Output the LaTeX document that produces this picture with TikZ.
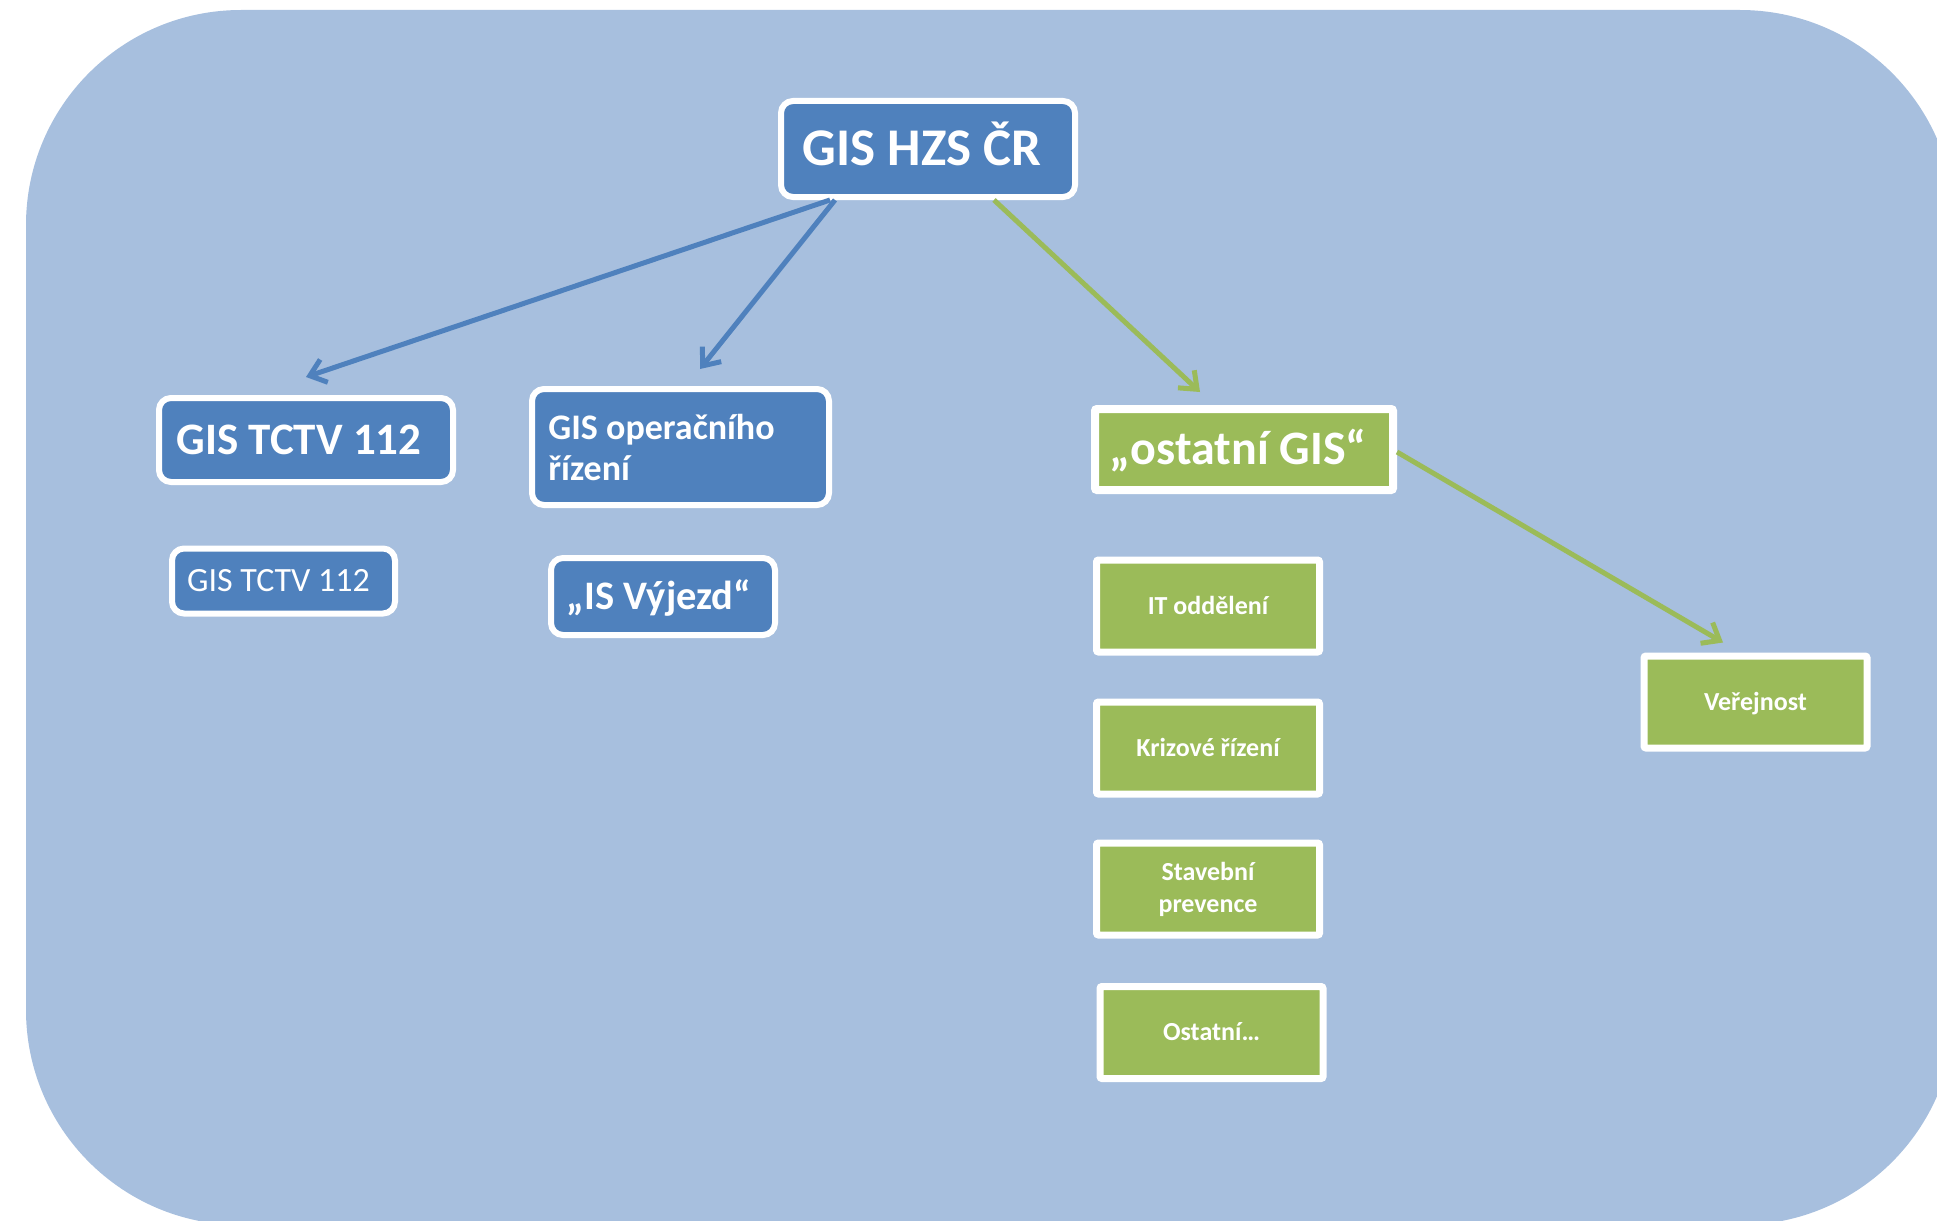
\documentclass[tikz,border=0pt]{standalone}
\usepackage{fontspec}
\setmainfont{Carlito}
\usetikzlibrary{arrows.meta}
\definecolor{bgblue}{HTML}{A7BFDE}
\definecolor{accblue}{HTML}{4F81BD}
\definecolor{accgreen}{HTML}{9BBB59}
\begin{document}
\begin{tikzpicture}[x=1pt,y=-1pt,
  bluebox/.style={draw=white, line width=6pt, fill=accblue, rounded corners=12pt,
    text=white, inner sep=0pt},
  greenbox/.style={draw=white, line width=7pt, fill=accgreen, rounded corners=2pt,
    text=white, inner sep=0pt, minimum width=223pt, minimum height=92pt,
    font=\bfseries\fontsize{26}{32}\selectfont},
  capc/.style={text height=#1, text depth=0pt},
  bluearrow/.style={draw=accblue, line width=5pt, -{Straight Barb[length=15pt,width=24pt]}},
  greenarrow/.style={draw=accgreen, line width=5pt, -{Straight Barb[length=15pt,width=24pt]}}
]
\useasboundingbox (0,0) rectangle (1937,1220);
\clip (0,0) rectangle (1937,1220);
\fill[bgblue, rounded corners=215pt] (26,10) rectangle (1955,1225);

% blue nodes
\node[bluebox, minimum width=294pt, minimum height=96pt, capc=33.5pt,
  font=\bfseries\fontsize{53}{62}\selectfont] (hzs) at (928,149) {GIS HZS ČR\kern12pt};
\node[bluebox, minimum width=294pt, minimum height=84pt, capc=28.5pt,
  font=\bfseries\fontsize{45}{54}\selectfont] (tctvA) at (306,440) {GIS TCTV 112\kern14pt};
\node[bluebox, minimum width=297pt, minimum height=116pt, align=left,
  font=\bfseries\fontsize{36}{41}\selectfont] (oper) at (680.5,447) {GIS operačního\kern38pt\\řízení};
\node[bluebox, minimum width=223pt, minimum height=65pt, capc=21.5pt,
  font=\fontsize{34}{40}\selectfont] (tctvB) at (283.5,581) {GIS TCTV 112\kern10pt};
\node[bluebox, minimum width=224pt, minimum height=77pt, capc=25.3pt,
  font=\bfseries\fontsize{40.5}{48}\selectfont] (vyjezd) at (663,596.5) {„IS Výjezd“\kern8pt};

% green nodes
\node[greenbox, minimum width=298pt, minimum height=81pt, line width=8pt, capc=30pt,
  font=\bfseries\fontsize{48}{56}\selectfont] (ostGIS) at (1244,449.5) {„ostatní GIS“\kern12pt};
\node[greenbox, capc=16.4pt] (it) at (1208,606) {IT oddělení};
\node[greenbox, capc=16.4pt] (krizove) at (1208,748) {Krizové řízení};
\node[greenbox, align=center] (stavebni) at (1208,889) {Stavební\\prevence};
\node[greenbox, capc=16.4pt] (ostatni) at (1211.5,1032.5) {Ostatní…};
\node[greenbox, capc=16.4pt] (verejnost) at (1755.5,702) {Veřejnost};

% connectors
\draw[bluearrow] ([xshift=-98pt]hzs.south) -- ([yshift=18pt]tctvA.north);
\draw[bluearrow] ([xshift=-93pt]hzs.south) -- ([xshift=19.5pt,yshift=17pt]oper.north);
\draw[greenarrow] ([xshift=66pt]hzs.south) -- ([xshift=-44pt,yshift=13pt]ostGIS.north);
\draw[greenarrow] ([yshift=-2.5pt]ostGIS.east) -- ([xshift=-32.5pt,yshift=10pt]verejnost.north);
\end{tikzpicture}
\end{document}
